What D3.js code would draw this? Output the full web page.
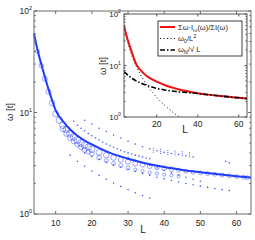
<!DOCTYPE html>
<html>
<head>
<meta charset="utf-8">
<script src="https://cdn.jsdelivr.net/npm/d3@7"></script>
<style>
  body { margin: 0; background: #fff; }
  svg { display: block; }
  text { font-family: "Liberation Sans", Arial, sans-serif; fill: #222; }
</style>
</head>
<body>
<svg id="chart" width="255" height="240"></svg>
<script>
// mean frequency curve (solid blue / red)
const meanL = [4, 5, 6, 7, 8, 9, 10, 12, 14, 16, 18, 20, 25, 30, 35, 40, 45, 50, 55, 60, 64];
const meanW = [60, 41, 30, 22.5, 17, 13.2, 10.5, 8.2, 6.8, 5.9, 5.3, 4.85, 4.0, 3.5, 3.15, 2.9, 2.72, 2.58, 2.46, 2.36, 2.28];

// open circles, upper band
const circL = [5, 6, 7, 8, 9, 10, 11, 12, 13, 14, 15, 16, 17, 18, 19, 20, 22, 24, 26, 28, 30, 32, 34, 36, 38, 40, 42, 44, 46, 48, 50, 52, 54, 56, 58, 60, 62, 63];
const circW = [40, 29, 21.5, 16, 12.4, 9.7, 8.4, 7.5, 6.8, 6.2, 5.75, 5.35, 5.0, 4.75, 4.55, 4.35, 4.05, 3.8, 3.6, 3.42, 3.28, 3.15, 3.05, 2.95, 2.88, 2.82, 2.76, 2.7, 2.64, 2.58, 2.54, 2.5, 2.46, 2.42, 2.38, 2.34, 2.3, 2.28];
const circN = [3, 4, 5, 5, 6, 7, 8, 9, 9, 10, 10, 10, 9, 9, 8, 8, 7, 6, 6, 5, 5, 5, 4, 4, 4, 4, 4, 3, 3, 3, 3, 3, 3, 3, 3, 3, 3, 3];
// open circles, lower band
const circ2L = [12, 13, 14, 15, 16, 17, 18, 19, 20, 22, 24, 26, 28, 30, 32, 34, 36, 38, 40, 42, 44];
const circ2W = [6.9, 6.2, 5.65, 5.2, 4.85, 4.55, 4.3, 4.1, 3.9, 3.6, 3.35, 3.15, 3.0, 2.85, 2.74, 2.64, 2.56, 2.5, 2.45, 2.4, 2.36];
const circ2N = [6, 6, 6, 5, 5, 5, 5, 4, 4, 4, 3, 3, 3, 3, 2, 2, 2, 2, 2, 2, 2];

// dotted point rows
const dotsAL = [18, 20, 22, 24, 26, 28, 30, 32, 34, 36, 38, 40, 42, 44, 46, 48, 57, 58];
const dotsAW = [8.4, 7.7, 7.0, 6.5, 6.0, 5.6, 5.2, 4.9, 4.6, 4.4, 4.2, 4.05, 3.95, 3.85, 3.75, 3.65, 3.3, 3.2];
const dotsBL = [15, 16, 17, 18, 19, 20, 21, 22, 23, 24, 25, 26, 27, 28, 29, 30, 31, 32, 33, 34, 35, 36];
const dotsBW = [8.2, 7.5, 7.0, 6.6, 6.2, 5.9, 5.6, 5.35, 5.1, 4.9, 4.7, 4.55, 4.4, 4.25, 4.1, 4.0, 3.9, 3.8, 3.72, 3.64, 3.56, 3.5];
const dotsCL = [18, 20, 22, 24, 26, 28, 30, 32, 34, 36, 38, 40, 42, 44, 46, 48, 50, 52, 54, 56, 58];
const dotsCW = [4.0, 3.7, 3.45, 3.25, 3.05, 2.9, 2.75, 2.62, 2.5, 2.4, 2.3, 2.22, 2.14, 2.07, 2.0, 1.94, 1.88, 1.83, 1.78, 1.74, 1.7];
const dotsDL = [14, 16, 18, 20, 22, 24, 26, 28, 30, 32, 34, 36];
const dotsDW = [3.8, 3.3, 2.95, 2.65, 2.4, 2.2, 2.02, 1.87, 1.74, 1.62, 1.52, 1.44];
const dotsEL = [30, 32, 34, 36, 38, 40, 42, 44, 46, 48, 50];
const dotsEW = [3.6, 3.4, 3.2, 3.0, 2.85, 2.7, 2.55, 2.42, 2.3, 2.2, 2.1];
// short vertical stacks
const stackL = [37, 39, 41, 43, 45, 47];
const stackW = [4.1, 4.0, 3.9, 3.85, 3.8, 3.7];

// inset reference lines
const w0L = [4, 6, 8, 10, 12, 14, 16, 18, 20, 22, 24, 26, 28, 30, 32];
const w0W = [60, 26.7, 15, 9.6, 6.67, 4.9, 3.75, 2.96, 2.4, 1.98, 1.67, 1.42, 1.22, 1.07, 0.94];
const wnL = [4, 8, 12, 16, 20, 25, 30, 35, 40, 50, 60, 64];
const wnW = [7.6, 5.6, 4.6, 4.0, 3.6, 3.3, 3.1, 2.98, 2.85, 2.58, 2.36, 2.28];

const xTicksMain = [10, 20, 30, 40, 50, 60];
const xTicksInset = [20, 40, 60];
const yDecades = [1, 10, 100];

const svg = d3.select("#chart");
const blue = "#1f3bff";
const axisGrey = "#6b6b6b";

// ---------- main axes ----------
const main = { left: 34, right: 251, top: 11, bottom: 214 };
const x = d3.scaleLinear().domain([4, 64]).range([main.left, main.right]);
const y = d3.scaleLog().domain([1, 100]).range([main.bottom, main.top]);

const zip = (a, b) => a.map((v, i) => [v, b[i]]);
const rScale = d3.scaleSqrt().domain([0, 10]).range([0, 3.6]);

const gMain = svg.append("g");

// dotted rows
const dotSets = [[dotsAL, dotsAW], [dotsBL, dotsBW], [dotsCL, dotsCW], [dotsDL, dotsDW], [dotsEL, dotsEW]];
dotSets.forEach(([ls, ws]) => {
  gMain.selectAll(null).data(zip(ls, ws)).join("circle")
    .attr("cx", d => x(d[0])).attr("cy", d => y(d[1]))
    .attr("r", 0.8).attr("fill", blue).attr("opacity", 0.85);
});
gMain.selectAll(null).data(zip(stackL, stackW)).join("line")
  .attr("x1", d => x(d[0])).attr("x2", d => x(d[0]))
  .attr("y1", d => y(d[1]) - 4).attr("y2", d => y(d[1]) + 1)
  .attr("stroke", blue).attr("stroke-width", 0.8).attr("stroke-dasharray", "1,1");

// open circles
gMain.selectAll(null).data(circ2L.map((l, i) => [l, circ2W[i], circ2N[i]])).join("circle")
  .attr("cx", d => x(d[0])).attr("cy", d => y(d[1])).attr("r", d => rScale(d[2]))
  .attr("fill", "none").attr("stroke", blue).attr("stroke-width", 0.6).attr("opacity", 0.75);
gMain.selectAll(null).data(circL.map((l, i) => [l, circW[i], circN[i]])).join("circle")
  .attr("cx", d => x(d[0])).attr("cy", d => y(d[1])).attr("r", d => rScale(d[2]))
  .attr("fill", "none").attr("stroke", blue).attr("stroke-width", 0.6).attr("opacity", 0.75);

// mean curve
const lineMain = d3.line().x(d => x(d[0])).y(d => y(d[1])).curve(d3.curveMonotoneX);
gMain.append("path").datum(zip(meanL, meanW))
  .attr("d", lineMain).attr("fill", "none").attr("stroke", blue).attr("stroke-width", 2);

// main frame and ticks
function drawFrame(g, xs, ys, box, xTicks, tickLen, color) {
  g.append("rect").attr("x", box.left).attr("y", box.top)
    .attr("width", box.right - box.left).attr("height", box.bottom - box.top)
    .attr("fill", "none").attr("stroke", color).attr("stroke-width", 1);
  xTicks.forEach(t => {
    g.append("line").attr("x1", xs(t)).attr("x2", xs(t)).attr("y1", box.bottom).attr("y2", box.bottom - tickLen).attr("stroke", color);
    g.append("line").attr("x1", xs(t)).attr("x2", xs(t)).attr("y1", box.top).attr("y2", box.top + tickLen).attr("stroke", color);
  });
  const minor = [];
  [1, 10].forEach(dec => d3.range(2, 10).forEach(m => minor.push(dec * m)));
  minor.concat(yDecades).forEach(t => {
    const len = yDecades.includes(t) ? tickLen : tickLen * 0.6;
    g.append("line").attr("x1", box.left).attr("x2", box.left + len).attr("y1", ys(t)).attr("y2", ys(t)).attr("stroke", color);
    g.append("line").attr("x1", box.right).attr("x2", box.right - len).attr("y1", ys(t)).attr("y2", ys(t)).attr("stroke", color);
  });
}
drawFrame(gMain, x, y, main, xTicksMain, 3, axisGrey);

gMain.selectAll(null).data(xTicksMain).join("text")
  .attr("x", d => x(d)).attr("y", main.bottom + 12).attr("text-anchor", "middle")
  .attr("font-size", 8.5).text(d => d);

function powerLabels(g, ys, xr, fs) {
  yDecades.forEach(t => {
    const tx = g.append("text").attr("x", xr).attr("y", ys(t) + 3).attr("text-anchor", "end").attr("font-size", fs);
    tx.append("tspan").text("10");
    tx.append("tspan").attr("dy", -4).attr("font-size", fs * 0.65).text(Math.round(Math.log10(t)));
  });
}
powerLabels(gMain, y, 32, 8.5);

gMain.append("text").attr("x", 143).attr("y", 233).attr("text-anchor", "middle").attr("font-size", 10).text("L");
gMain.append("text").attr("transform", "translate(13,112) rotate(-90)").attr("text-anchor", "middle")
  .attr("font-size", 9.5).text("ω [t]");

// ---------- inset ----------
const ins = { left: 124, right: 247, top: 14, bottom: 117 };
const xi = d3.scaleLinear().domain([4, 64]).range([ins.left, ins.right]);
const yi = d3.scaleLog().domain([1, 100]).range([ins.bottom, ins.top]);
const gIns = svg.append("g");
gIns.append("rect").attr("x", ins.left).attr("y", ins.top)
  .attr("width", ins.right - ins.left).attr("height", ins.bottom - ins.top).attr("fill", "#fff");

const clip = svg.append("clipPath").attr("id", "insclip").append("rect")
  .attr("x", ins.left).attr("y", ins.top).attr("width", ins.right - ins.left).attr("height", ins.bottom - ins.top);
const gInsData = gIns.append("g").attr("clip-path", "url(#insclip)");
const lineIns = d3.line().x(d => xi(d[0])).y(d => yi(d[1])).curve(d3.curveMonotoneX);

gInsData.append("path").datum(zip(w0L, w0W)).attr("d", lineIns)
  .attr("fill", "none").attr("stroke", "#111").attr("stroke-width", 1).attr("stroke-dasharray", "1,2.5");
gInsData.append("path").datum(zip(meanL, meanW)).attr("d", lineIns)
  .attr("fill", "none").attr("stroke", "#ee1111").attr("stroke-width", 2);
gInsData.append("path").datum(zip(wnL, wnW)).attr("d", lineIns)
  .attr("fill", "none").attr("stroke", "#000").attr("stroke-width", 1.6).attr("stroke-dasharray", "5,2,1.5,2");

drawFrame(gIns, xi, yi, ins, xTicksInset, 2.5, "#555");
gIns.selectAll(null).data(xTicksInset).join("text")
  .attr("x", d => xi(d)).attr("y", ins.bottom + 10).attr("text-anchor", "middle")
  .attr("font-size", 8.5).text(d => d);
powerLabels(gIns, yi, 121, 8);
gIns.append("text").attr("x", 185).attr("y", 133).attr("text-anchor", "middle").attr("font-size", 10).text("L");
gIns.append("text").attr("transform", "translate(106,66) rotate(-90)").attr("text-anchor", "middle")
  .attr("font-size", 9.5).text("ω [t]");

// legend
const leg = gIns.append("g");
leg.append("rect").attr("x", 158).attr("y", 21).attr("width", 84).attr("height", 35)
  .attr("fill", "#fff").attr("stroke", "#111").attr("stroke-width", 0.8);
const legRows = [
  { y: 27, stroke: "#ee1111", w: 2, dash: null },
  { y: 38.5, stroke: "#111", w: 1, dash: "1,2.5" },
  { y: 50, stroke: "#000", w: 1.6, dash: "5,2,1.5,2" }
];
legRows.forEach(r => {
  leg.append("line").attr("x1", 160).attr("x2", 175).attr("y1", r.y).attr("y2", r.y)
    .attr("stroke", r.stroke).attr("stroke-width", r.w).attr("stroke-dasharray", r.dash);
});
const t1 = leg.append("text").attr("x", 178).attr("y", 30).attr("font-size", 7.5);
t1.append("tspan").text("Σω·I");
t1.append("tspan").attr("dy", 2).attr("font-size", 5.5).text("ω");
t1.append("tspan").attr("dy", -2).text("(ω)/ΣI(ω)");
const t2 = leg.append("text").attr("x", 178).attr("y", 41).attr("font-size", 7.5);
t2.append("tspan").text("ω");
t2.append("tspan").attr("dy", 2).attr("font-size", 5.5).text("0");
t2.append("tspan").attr("dy", -2).text("/L");
t2.append("tspan").attr("dy", -3).attr("font-size", 5.5).text("2");
const t3 = leg.append("text").attr("x", 178).attr("y", 52).attr("font-size", 7.5);
t3.append("tspan").text("ω");
t3.append("tspan").attr("dy", 2).attr("font-size", 5.5).text("N");
t3.append("tspan").attr("dy", -2).text("/√ L");
</script>
</body>
</html>
